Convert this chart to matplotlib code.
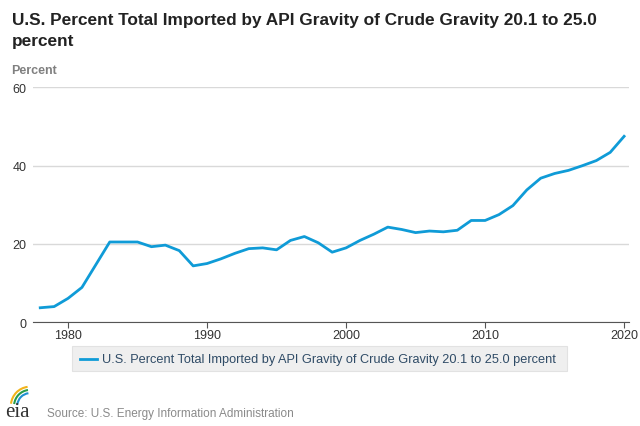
import matplotlib.pyplot as plt
from matplotlib.patches import Rectangle, Arc

plt.rcParams["font.family"] = ["Liberation Sans", "DejaVu Sans"]

years = list(range(1978, 2021))
percent = [3.7, 4.0, 6.1, 8.9, 14.7, 20.5, 20.5, 20.5, 19.3, 19.7,
           18.3, 14.4, 15.0, 16.2, 17.6, 18.8, 19.0, 18.5, 20.9, 21.9,
           20.3, 17.9, 19.0, 20.9, 22.5, 24.3, 23.7, 22.9, 23.3, 23.1,
           23.5, 26.0, 26.0, 27.5, 29.8, 33.8, 36.8, 38.0, 38.8, 40.0,
           41.3, 43.4, 47.5]
y_ticks = [0, 20, 40, 60]
x_ticks = [1980, 1990, 2000, 2010, 2020]
series_name = "U.S. Percent Total Imported by API Gravity of Crude Gravity 20.1 to 25.0 percent"

line_color = "#0f9bd7"

fig = plt.figure(figsize=(6.4, 4.27), dpi=100)
ax = fig.add_axes([0.052, 0.243, 0.931, 0.55])

ax.plot(years, percent, color=line_color, linewidth=2, solid_joinstyle="round")
ax.set_xlim(1977.5, 2020.36)
ax.set_ylim(0, 60)
ax.set_yticks(y_ticks)
ax.set_xticks(x_ticks)
ax.grid(axis="y", color="#d9d9d9", linewidth=1)
ax.set_axisbelow(True)
for side in ["top", "right", "left"]:
    ax.spines[side].set_visible(False)
ax.spines["bottom"].set_color("#555555")
ax.tick_params(axis="y", length=0, labelsize=9, colors="#333333", pad=5)
ax.tick_params(axis="x", length=4, color="#555555", labelsize=9, colors="#333333", pad=1)

fig.text(0.018, 0.942, "U.S. Percent Total Imported by API Gravity of Crude Gravity 20.1 to 25.0",
         fontsize=12.45, fontweight="bold", color="#222222", va="baseline", ha="left")
fig.text(0.018, 0.893, "percent",
         fontsize=12.45, fontweight="bold", color="#222222", va="baseline", ha="left")
fig.text(0.017, 0.834, "Percent", fontsize=9, fontweight="bold", color="#808080", va="center")

# legend box
fig.patches.append(Rectangle((0.1125, 0.129), 0.773, 0.0585, transform=fig.transFigure,
                             facecolor="#efefef", edgecolor="#e2e2e2", linewidth=0.8))
fig.lines.append(plt.Line2D([0.125, 0.152], [0.158, 0.158], transform=fig.transFigure,
                            color=line_color, linewidth=2))
fig.text(0.159, 0.158, series_name, fontsize=9.2, color="#2f4b66", va="center")

# source line with a simple eia mark
fig.text(0.008, 0.023, "eia", fontsize=15, family="Liberation Serif", color="#333333", va="baseline")
for r, c in [(0.03, "#f2b41b"), (0.025, "#2a9d4a"), (0.02, "#1f8fd0")]:
    fig.patches.append(Arc((0.047, 0.047), r * 2, r * 3, theta1=95, theta2=170,
                           transform=fig.transFigure, color=c, linewidth=1.5))
fig.text(0.073, 0.023, "Source: U.S. Energy Information Administration", fontsize=8.5,
         color="#8a8a8a", va="baseline")

fig.savefig("out.png", dpi=100)
